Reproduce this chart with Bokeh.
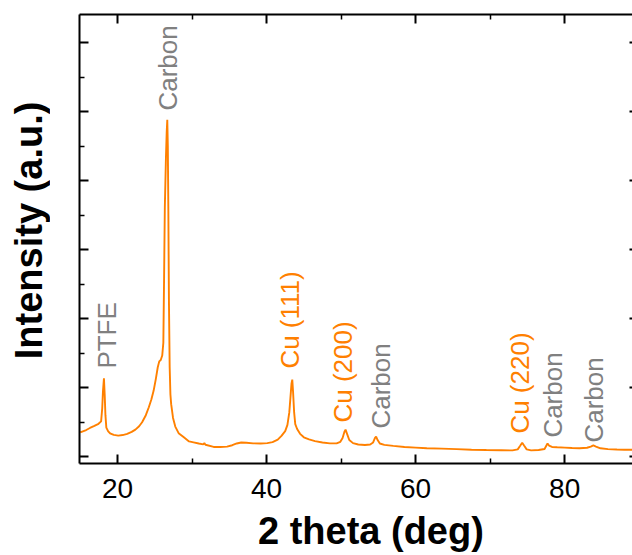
import numpy as np
from bokeh.plotting import figure
from bokeh.layouts import column, row
from bokeh.models import LinearAxis, FixedTicker, Range1d
from bokeh.embed import file_html
from bokeh.resources import INLINE
from bokeh.core.properties import value

# XRD pattern: diffraction angle (deg) and intensity (counts, arbitrary units)
two_theta = [
    15.0, 15.8, 16.3, 16.9, 17.45, 17.8, 17.95, 18.05, 18.18, 18.28, 18.38, 18.5,
    18.75, 19.0, 19.5, 20.1, 20.7, 21.3, 21.9, 22.4, 22.9, 23.3, 23.8, 24.2,
    24.55, 24.85, 25.15, 25.4, 25.6, 25.8, 26.0, 26.15, 26.25, 26.35, 26.5, 26.6,
    26.68, 26.75, 26.82, 26.9, 27.0, 27.1, 27.2, 27.45, 27.75, 28.2, 28.9, 29.6,
    30.2, 30.9, 31.5, 31.65, 31.8, 32.9, 33.8, 34.7, 35.4, 36.0, 36.6, 37.3,
    38.2, 39.2, 40.1, 40.8, 41.5, 42.0, 42.5, 42.8, 43.05, 43.2, 43.35, 43.45,
    43.55, 43.7, 43.85, 44.1, 44.5, 45.0, 45.7, 46.5, 47.5, 48.5, 49.4, 49.9,
    50.2, 50.45, 50.6, 50.8, 51.1, 51.6, 52.3, 53.2, 53.9, 54.3, 54.55, 54.7,
    54.9, 55.2, 55.8, 57.0, 58.5, 60.0, 61.5, 63.5, 65.5, 67.5, 69.5, 71.5,
    73.0, 73.7, 74.05, 74.3, 74.55, 74.9, 75.5, 76.5, 77.3, 77.55, 77.7, 77.9,
    78.3, 79.0, 80.0, 81.0, 82.0, 83.0, 83.5, 83.85, 84.2, 84.8, 85.8, 87.0,
    88.0, 89.1,
]
intensity = [
    352, 385, 415, 445, 475, 510, 700, 950, 1135, 900, 600, 420,
    365, 338, 315, 304, 312, 329, 358, 391, 440, 497, 600, 715,
    830, 957, 1130, 1295, 1380, 1400, 1464, 1650, 2600, 3613, 4338, 4700,
    4880, 4500, 3600, 2260, 1295, 900, 760, 560, 435, 340, 280, 220,
    207, 190, 178, 195, 172, 140, 140, 145, 165, 190, 205, 200,
    192, 190, 195, 210, 245, 300, 370, 460, 640, 850, 1060, 1115,
    950, 640, 470, 400, 330, 280, 250, 225, 205, 192, 192, 215,
    270, 360, 390, 330, 240, 195, 175, 168, 175, 205, 270, 290,
    240, 190, 170, 155, 140, 130, 120, 115, 108, 100, 95, 92,
    90, 105, 160, 200, 160, 105, 90, 95, 110, 160, 190, 160,
    140, 135, 130, 125, 122, 128, 145, 162, 145, 120, 108, 102,
    100, 100,
]

# Peak assignments
peak_names = ["PTFE", "Carbon", "Cu (111)", "Cu (200)", "Carbon", "Cu (220)", "Carbon", "Carbon"]
peak_pos = [18.62, 26.81, 43.19, 50.30, 55.40, 74.06, 78.49, 83.99]
label_base = [1275, 5014, 1275, 493, 406, 333, 275, 203]
label_colors = ["#808080", "#808080", "#FF8000", "#FF8000", "#808080", "#FF8000", "#808080", "#808080"]

x_ticks = [20, 40, 60, 80]
x_minor = [30, 50, 70]
x_tick_labels = ["20", "40", "60", "80"]
y_ticks = [0, 1000, 2000, 3000, 4000, 5000, 6000]
y_minor = [500, 1500, 2500, 3500, 4500, 5500]

x_title = "2 theta (deg)"
y_title = "Intensity (a.u.)"

FONT = "Liberation Sans"
ORANGE = "#FF8000"
X_LIM = (14.9, 89.1)

TOTAL_W, TOTAL_H = 632, 555
FRAME_LEFT = 79
TITLE_W = 50                 # strip with the vertical axis title
MAIN_H = 465                 # plot incl. top margin; frame ends at 463
BOTTOM_H = TOTAL_H - MAIN_H  # strip with tick labels and horizontal title


def bare_figure(w, h, x_range, y_range, left=0):
    f = figure(
        width=w, height=h, x_range=x_range, y_range=y_range,
        output_backend="svg", toolbar_location=None,
        x_axis_location=None, y_axis_location=None,
        min_border=0, min_border_left=left, outline_line_color=None,
        background_fill_color="white", border_fill_color="white",
    )
    f.xgrid.visible = False
    f.ygrid.visible = False
    return f


p = figure(
    width=TOTAL_W - TITLE_W, height=MAIN_H,
    x_range=Range1d(*X_LIM), y_range=Range1d(-100, 6406),
    output_backend="svg", toolbar_location=None,
    min_border_left=FRAME_LEFT - TITLE_W, min_border_right=0,
    min_border_top=14, min_border_bottom=2,
    background_fill_color="white", border_fill_color="white",
    outline_line_color=None,
)
p.xgrid.visible = False
p.ygrid.visible = False

p.line(two_theta, intensity, line_color=ORANGE, line_width=1.9)

p.text(
    x=peak_pos, y=label_base, text=peak_names,
    angle=90, angle_units="deg",
    text_align="left", text_baseline="middle",
    text_font=value(FONT), text_font_size="26px", text_color=label_colors,
)


def style_axis(ax, ticks, minor, major_in, minor_in):
    ax.ticker = FixedTicker(ticks=ticks, minor_ticks=minor)
    ax.axis_line_color = "black"
    ax.axis_line_width = 2
    ax.major_tick_line_color = "black"
    ax.major_tick_line_width = 2
    ax.minor_tick_line_color = "black"
    ax.minor_tick_line_width = 1.5
    ax.major_tick_in = major_in
    ax.major_tick_out = 0
    ax.minor_tick_in = minor_in
    ax.minor_tick_out = 0
    ax.major_label_text_font_size = "0px"
    ax.major_label_text_color = None
    ax.major_label_standoff = 0


style_axis(p.xaxis[0], x_ticks, x_minor, 9, 5)
style_axis(p.yaxis[0], y_ticks, y_minor, 9, 5)

top = LinearAxis()
style_axis(top, x_ticks, x_minor, 9, 5)
p.add_layout(top, "above")

right = LinearAxis()
style_axis(right, y_ticks, [], 3, 0)
right.axis_line_color = None
p.add_layout(right, "right")

# vertical axis title, reading upwards
ytf = bare_figure(TITLE_W, MAIN_H, Range1d(0, TITLE_W), Range1d(0, MAIN_H))
ytf.text(
    x=[28], y=[MAIN_H - 357], text=[y_title],
    angle=90, angle_units="deg",
    text_align="left", text_baseline="middle",
    text_font=value(FONT), text_font_size="38px", text_font_style="bold",
    text_color="black",
)

# bottom strip: tick labels on the same 2-theta scale, then the axis title
bf = bare_figure(TOTAL_W, BOTTOM_H, Range1d(*X_LIM), Range1d(0, BOTTOM_H), left=FRAME_LEFT)
bf.text(
    x=x_ticks, y=[BOTTOM_H - 22.5] * len(x_ticks), text=x_tick_labels,
    text_align="center", text_baseline="middle",
    text_font=value(FONT), text_font_size="28px", text_color="black",
)
bf.text(
    x=[54.0], y=[BOTTOM_H - 65], text=[x_title],
    text_align="center", text_baseline="middle",
    text_font=value(FONT), text_font_size="38px", text_font_style="bold",
    text_color="black",
)

layout = column(row(ytf, p, spacing=0), bf, spacing=0)

open("out.html", "w").write(file_html(layout, INLINE))
